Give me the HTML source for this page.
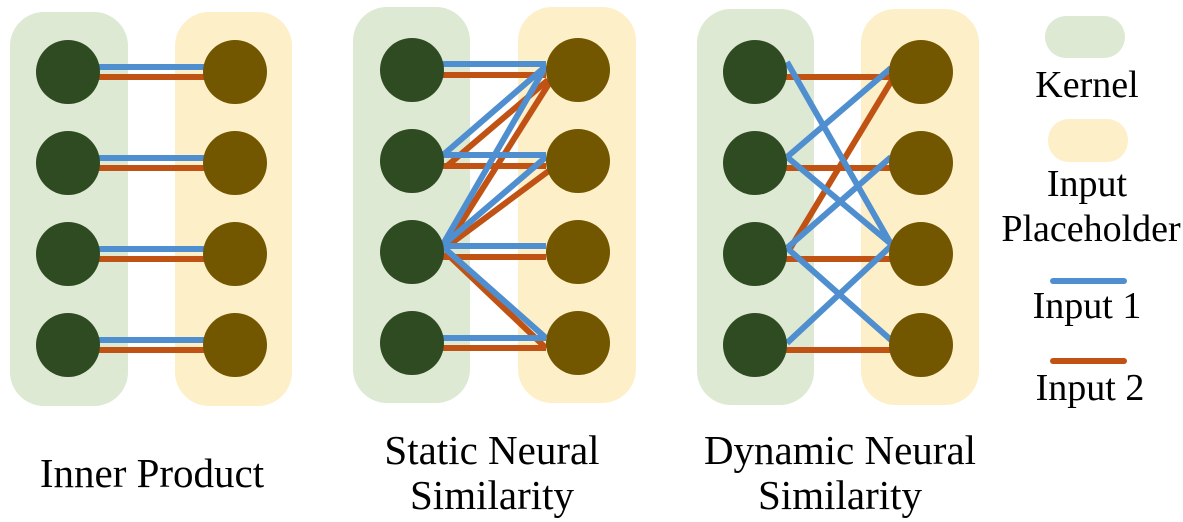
<!DOCTYPE html>
<html><head><meta charset="utf-8"><style>body{margin:0;background:#fff}svg{display:block}text{font-family:"Liberation Serif",serif;font-size:38px;fill:#000;text-anchor:middle}.b{font-size:41px}</style></head><body>
<svg width="1183" height="522" viewBox="0 0 1183 522">
<g fill="#dde9d3"><rect x="10" y="12" width="118" height="394" rx="34"/><rect x="353" y="7" width="117" height="396" rx="34"/><rect x="697" y="9" width="117" height="396" rx="34"/><rect x="1045" y="16" width="80" height="42" rx="21"/></g>
<g fill="#fdefc7"><rect x="175" y="12" width="117" height="394" rx="34"/><rect x="518" y="7" width="118" height="396" rx="34"/><rect x="861" y="9" width="118" height="396" rx="34"/><rect x="1048" y="119" width="80" height="43" rx="21"/></g>
<g stroke-width="6" stroke-linecap="butt">
<g stroke="#4f8fcf"><line x1="98" y1="67" x2="205" y2="67"/><line x1="98" y1="158" x2="205" y2="158"/><line x1="98" y1="249" x2="205" y2="249"/><line x1="98" y1="340" x2="205" y2="340"/></g>
<g stroke="#c05214"><line x1="98" y1="77" x2="205" y2="77"/><line x1="98" y1="168" x2="205" y2="168"/><line x1="98" y1="259" x2="205" y2="259"/><line x1="98" y1="350" x2="205" y2="350"/></g>
<g stroke="#c05214"><line x1="443" y1="75" x2="546" y2="75"/><line x1="443" y1="166" x2="546" y2="166"/><line x1="443" y1="257" x2="546" y2="257"/><line x1="443" y1="348" x2="546" y2="348"/>
<line x1="447" y1="166" x2="548" y2="80"/><line x1="445" y1="248" x2="550" y2="82"/><line x1="445" y1="248" x2="550" y2="170"/><line x1="445" y1="252" x2="546" y2="348"/></g>
<g stroke="#4f8fcf"><line x1="443" y1="64" x2="546" y2="64"/><line x1="443" y1="155" x2="546" y2="155"/><line x1="443" y1="246" x2="546" y2="246"/><line x1="443" y1="338" x2="546" y2="338"/>
<line x1="443" y1="155" x2="546" y2="66"/><line x1="442" y1="246" x2="546" y2="66"/><line x1="442" y1="246" x2="546" y2="157"/><line x1="442" y1="246" x2="546" y2="338"/></g>
<g stroke="#c05214"><line x1="786" y1="77" x2="890" y2="77"/><line x1="786" y1="168" x2="890" y2="168"/><line x1="786" y1="259" x2="890" y2="259"/><line x1="786" y1="350" x2="890" y2="350"/><line x1="788" y1="252" x2="892" y2="80"/></g>
<g stroke="#4f8fcf"><line x1="787" y1="62" x2="891" y2="244"/><line x1="787" y1="157" x2="891" y2="68"/><line x1="787" y1="157" x2="891" y2="244"/><line x1="787" y1="248" x2="891" y2="157"/><line x1="787" y1="248" x2="891" y2="340"/><line x1="787" y1="343" x2="891" y2="246"/></g>
<line x1="1053" y1="281" x2="1124" y2="281" stroke="#4f8fcf" stroke-width="6" stroke-linecap="round"/>
<line x1="1053" y1="361" x2="1124" y2="361" stroke="#c05214" stroke-width="6" stroke-linecap="round"/>
</g>
<g fill="#2f4b22"><circle cx="68" cy="72" r="32"/><circle cx="68" cy="163" r="32"/><circle cx="68" cy="254" r="32"/><circle cx="68" cy="345" r="32"/>
<circle cx="412" cy="70" r="32"/><circle cx="412" cy="161" r="32"/><circle cx="412" cy="252" r="32"/><circle cx="412" cy="343" r="32"/>
<circle cx="755" cy="72" r="32"/><circle cx="755" cy="163" r="32"/><circle cx="755" cy="254" r="32"/><circle cx="755" cy="345" r="32"/></g>
<g fill="#735600"><circle cx="235" cy="72" r="32"/><circle cx="235" cy="163" r="32"/><circle cx="235" cy="254" r="32"/><circle cx="235" cy="345" r="32"/>
<circle cx="578" cy="70" r="32"/><circle cx="578" cy="161" r="32"/><circle cx="578" cy="252" r="32"/><circle cx="578" cy="343" r="32"/>
<circle cx="921" cy="72" r="32"/><circle cx="921" cy="163" r="32"/><circle cx="921" cy="254" r="32"/><circle cx="921" cy="345" r="32"/></g>
<text x="1087" y="97">Kernel</text>
<text x="1087" y="196">Input</text>
<text x="1091" y="241">Placeholder</text>
<text x="1087" y="318">Input 1</text>
<text x="1090" y="400">Input 2</text>
<text class="b" x="152" y="487">Inner Product</text>
<text class="b" x="492" y="464">Static Neural</text>
<text class="b" x="492" y="509">Similarity</text>
<text class="b" x="840" y="464">Dynamic Neural</text>
<text class="b" x="840" y="509">Similarity</text>
</svg>
</body></html>
